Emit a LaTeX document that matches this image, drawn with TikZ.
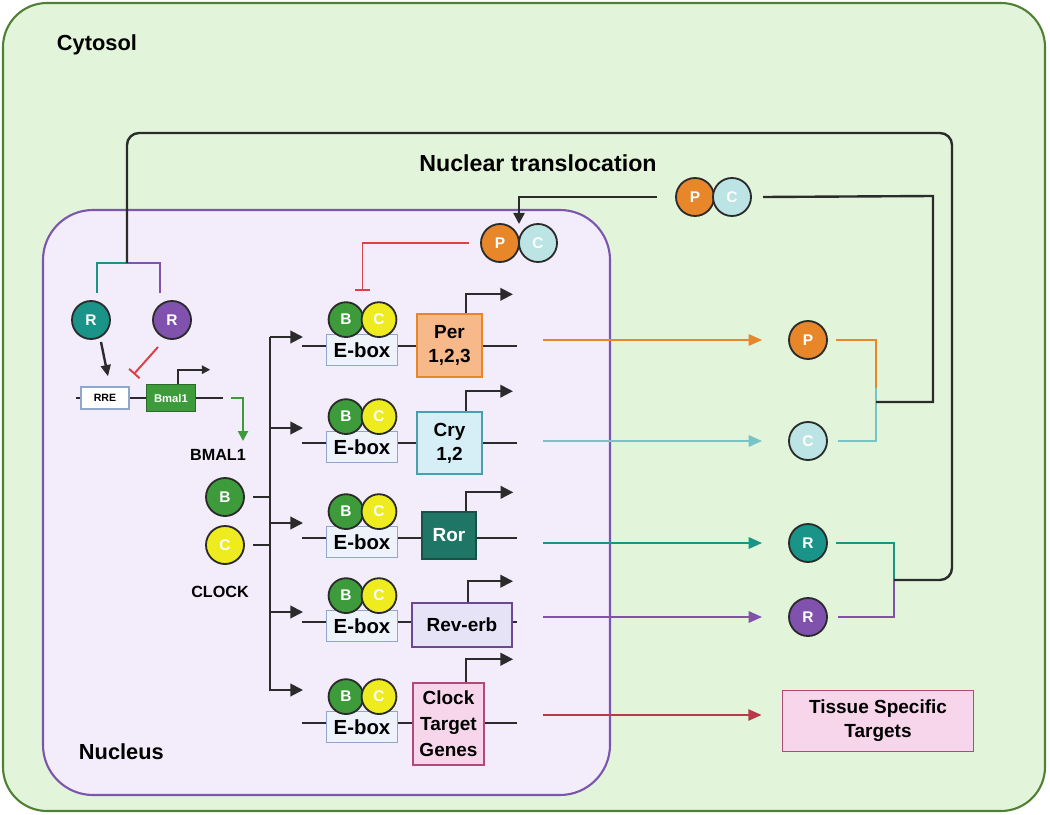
\documentclass[tikz,border=0pt]{standalone}
\usepackage{fontspec}
\setmainfont{Liberation Sans}
\usetikzlibrary{positioning, calc, arrows.meta}

\definecolor{cytofill}{HTML}{E2F5DA}
\definecolor{cytoline}{HTML}{4F8034}
\definecolor{nucfill}{HTML}{F2ECFB}
\definecolor{nucline}{HTML}{7C55AE}
\definecolor{perc}{HTML}{E8862A}
\definecolor{perfill}{HTML}{F8B98A}
\definecolor{cryc}{HTML}{BCE4E4}
\definecolor{cryline}{HTML}{4A9FAE}
\definecolor{cryfill}{HTML}{D6EFF7}
\definecolor{rorc}{HTML}{1A9488}
\definecolor{rorfill}{HTML}{1F7566}
\definecolor{revc}{HTML}{8052AE}
\definecolor{revfill}{HTML}{E7E3F7}
\definecolor{bmalc}{HTML}{3E9B3C}
\definecolor{clockc}{HTML}{EEEC1E}
\definecolor{tgtfill}{HTML}{F7D6EC}
\definecolor{tgtline}{HTML}{B4487A}
\definecolor{redc}{HTML}{B73A4B}
\definecolor{inhc}{HTML}{D8434A}
\definecolor{eboxfill}{HTML}{EEF3FB}
\definecolor{eboxline}{HTML}{90A7CC}
\definecolor{lteal}{HTML}{78C4C4}
\definecolor{ink}{HTML}{2B2B2B}

\begin{document}
\begin{tikzpicture}[x=0.025cm, y=-0.025cm,
    mol/.style={circle, draw=ink, line width=1.3pt, minimum size=0.95cm, inner sep=0pt, text=white, font=\fontsize{11}{12}\selectfont\bfseries},
    bc/.style={mol, minimum size=0.87cm},
    gene/.style={draw, line width=1.1pt, align=center, inner sep=1pt, font=\fontsize{13.5}{17}\selectfont\bfseries},
    ebox/.style={draw=eboxline, fill=eboxfill, line width=1.1pt, minimum width=1.78cm, minimum height=0.78cm, inner sep=0pt, font=\fontsize{14.5}{15}\selectfont\bfseries},
    dna/.style={draw=ink, line width=1.4pt},
    tx/.style={dna, -{Triangle[length=9pt,width=9pt]}},
    link/.style={draw=ink, line width=1.7pt},
    flow/.style={line width=1.6pt, -{Triangle[length=9.5pt,width=8pt]}},
    brk/.style={line width=1.5pt},
    inh/.style={draw=inhc, line width=1.4pt, -{Bar[width=10pt]}},
    label/.style={font=\fontsize{15.5}{17}\selectfont\bfseries}]
    \useasboundingbox (0,0) rectangle (1050,814);
    \draw[fill=cytofill, draw=cytoline, line width=1.5pt, rounded corners=1.1cm] (3,3) rectangle (1045,811);
    \draw[fill=nucfill, draw=nucline, line width=1.5pt, rounded corners=1.25cm] (43,210) rectangle (610,795);
    \node[label, anchor=west] (cyto) at (52,45) {Cytosol};
    \node[label, anchor=west] (nuc) at (74,752) {Nucleus};
    \node[label, font=\fontsize{16.5}{18}\selectfont\bfseries] (transl) at (538,163) {Nuclear translocation};

    % gene rows
    \foreach \n/\y in {1/346,2/443,3/538,4/622,5/723} {
        \coordinate (s\n) at (302,\y);
        \coordinate (e\n) at (517,\y);
        \draw[dna] (s\n) -- (e\n);
        \node[ebox] (ebox\n) at (362,\y+4) {E-box};
        \node[bc, fill=bmalc] (b\n) at ($(ebox\n.north)+(-16,-14)$) {B};
        \node[bc, fill=clockc] (c\n) at ($(ebox\n.north)+(17,-14)$) {C};
    }
    \node[gene, fill=perfill, draw=perc, minimum width=1.62cm, minimum height=1.57cm] (per) at (449.5,345.5) {Per\\1,2,3};
    \node[gene, fill=cryfill, draw=cryline, minimum width=1.62cm, minimum height=1.55cm] (cry) at (449.5,443) {Cry\\1,2};
    \node[gene, fill=rorfill, draw=rorfill!70!black, text=white, minimum width=1.35cm, minimum height=1.17cm] (ror) at (449,535.5) {Ror};
    \node[gene, fill=revfill, draw=revc!85!black, minimum width=2.5cm, minimum height=1.1cm] (reverb) at (462,625) {Rev-erb};
    \node[gene, fill=tgtfill, draw=tgtline, minimum width=1.77cm, minimum height=2.05cm, font=\fontsize{13.5}{18.5}\selectfont\bfseries] (ctg) at (448.5,724) {Clock\\Target\\Genes};
    \draw[tx] ([xshift=0.41cm]per.north) |- ++(47,-19);
    \draw[tx] ([xshift=0.41cm]cry.north) |- ++(47,-20);
    \draw[tx] ([xshift=0.43cm]ror.north) |- ++(47,-19);
    \draw[tx] ([xshift=0.15cm]reverb.north) |- ++(45,-21);
    \draw[tx] ([xshift=0.44cm]ctg.north) |- ++(47,-23);

    % branching to the E-boxes
    \foreach \n/\y in {1/337,2/428,3/523,4/612,5/690} {
        \coordinate (br\n) at (270,\y);
        \coordinate (a\n) at (303,\y);
    }
    \draw[tx] (br1) |- (a5);
    \foreach \n in {1,...,4} \draw[tx] (br\n) -- (a\n);
    \node[mol, fill=bmalc] (fb) at (225,497) {B};
    \node[mol, fill=clockc] (fc) at (225,545) {C};
    \node[font=\fontsize{11.5}{12}\selectfont\bfseries] (lblb) at (218,455) {BMAL1};
    \node[font=\fontsize{11.5}{12}\selectfont\bfseries] (lblc) at (220,592) {CLOCK};
    \draw[dna] ([xshift=0.2cm]fb.east) -- (fb -| br1);
    \draw[dna] ([xshift=0.2cm]fc.east) -- (fc -| br1);

    % Bmal1 promoter
    \coordinate (l0) at (76,398);
    \coordinate (l1) at (223,398);
    \draw[dna] (l0) -- (l1);
    \node[draw=eboxline, fill=white, line width=1pt, minimum width=1.2cm, minimum height=0.55cm, inner sep=0pt, font=\fontsize{7.5}{8}\selectfont\bfseries] (rre) at (105,398) {RRE};
    \node[draw=bmalc!70!black, fill=bmalc, line width=1pt, minimum width=1.22cm, minimum height=0.68cm, inner sep=0pt, text=white, font=\fontsize{8}{9}\selectfont\bfseries] (bmal) at (171,398) {Bmal1};
    \draw[dna, -{Triangle[length=6pt,width=6pt]}] ([xshift=0.18cm]bmal.north) |- ++(32,-14);
    \coordinate (g0) at (231,398);
    \coordinate (gtip) at (243,441);
    \draw[flow, bmalc, -{Triangle[length=7pt,width=7pt]}] (g0) -| (gtip);
    \node[mol, fill=rorc] (rt) at (91,320) {R};
    \node[mol, fill=revc] (rp) at (172,320) {R};
    \draw[link, -{Triangle[length=8pt,width=7pt]}] ($(rt)+(10,22)$) -- ($(rre.north)+(3,-10)$);
    \draw[inh] ($(rp)+(-14,27)$) -- ($(rre.north east)+(4,-12)$);

    % PER/CRY complexes
    \node[mol, fill=perc] (np) at (500,243) {P};
    \node[mol, fill=cryc] (nc) at (538,243) {C};
    \node[mol, fill=perc] (cp) at (695,197) {P};
    \node[mol, fill=cryc] (cc) at (732,197) {C};
    \draw[inh] ([xshift=-0.28cm]np.west) -| ($(b1)!0.5!(c1)+(0,-29)$);
    \draw[link, -{Triangle[length=8pt,width=8pt]}] ([xshift=-0.45cm]cp.west) -| ($(np)!0.5!(nc)+(0,-19)$);

    % products in the cytosol
    \node[mol, fill=perc] (pr) at (808,340) {P};
    \node[mol, fill=cryc] (cr) at (808,441) {C};
    \node[mol, fill=rorc] (rr1) at (808,543) {R};
    \node[mol, fill=revc] (rr2) at (808,617) {R};
    \node[gene, fill=tgtfill, draw=tgtline, minimum width=4.78cm, minimum height=1.52cm, font=\fontsize{13.5}{17}\selectfont\bfseries] (tissue) at (878,721) {Tissue Specific\\Targets};
    \coordinate (o1) at (543,340);
    \coordinate (o2) at (543,441);
    \coordinate (o3) at (543,543);
    \coordinate (o4) at (543,617);
    \coordinate (o5) at (543,715);
    \draw[flow, perc] (o1) -- ([xshift=-0.65cm]pr.west);
    \draw[flow, lteal] (o2) -- ([xshift=-0.65cm]cr.west);
    \draw[flow, rorc] (o3) -- ([xshift=-0.65cm]rr1.west);
    \draw[flow, revc] (o4) -- ([xshift=-0.65cm]rr2.west);
    \draw[flow, redc] (o5) -- ([xshift=-0.5cm]tissue.west |- o5);

    % feedback to the nucleus
    \coordinate (pm) at (876,388);
    \coordinate (jp) at (876,402);
    \coordinate (jr) at (894,580);
    \coordinate (top) at (127,263);
    \draw[brk, perc] ([xshift=0.2cm]pr.east) -| (pm);
    \draw[brk, lteal] ([xshift=0.25cm]cr.east) -| (pm);
    \draw[brk, rorc] ([xshift=0.2cm]rr1.east) -| (jr);
    \draw[brk, revc] ([xshift=0.25cm]rr2.east) -| (jr);
    \draw[brk, rorc] ($(rt)+(6,-27)$) |- (top);
    \draw[brk, revc] ($(rp)+(-12,-27)$) |- (top);
    \draw[link] (jp) -| (933,196) -- ([xshift=0.28cm]cc.east);
    \draw[link, rounded corners=0.3cm] (jr) -| (952,133) -| (top);
\end{tikzpicture}
\end{document}
